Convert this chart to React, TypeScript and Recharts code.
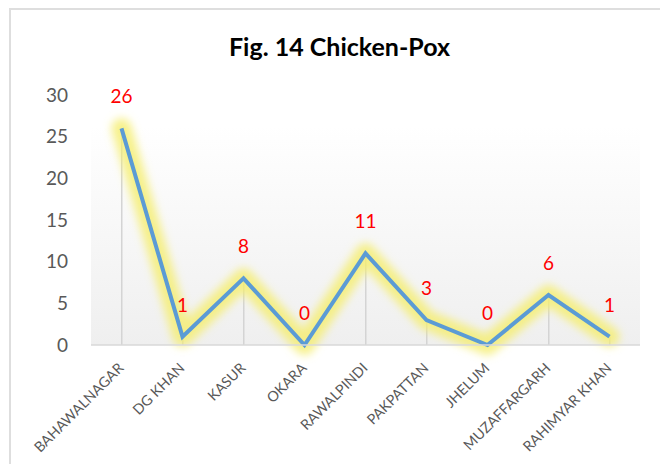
import React from 'react';
import { ComposedChart, Line, Bar, XAxis, YAxis, LabelList, ReferenceArea } from 'recharts';

const districts = ['BAHAWALNAGAR', 'DG KHAN', 'KASUR', 'OKARA', 'RAWALPINDI', 'PAKPATTAN', 'JHELUM', 'MUZAFFARGARH', 'RAHIMYAR KHAN'];
const cases = [26, 1, 8, 0, 11, 3, 0, 6, 1];
const yTicks = [0, 5, 10, 15, 20, 25, 30];

const data = districts.map((d, i) => ({ name: d, value: cases[i] }));

const FONT = 'Lato, "Open Sans", sans-serif';

const XTick = (props: any) => {
  const { x, y, payload } = props;
  const ax = x + 3;
  const ay = y + 16;
  return (
    <text
      x={ax}
      y={ay}
      transform={`rotate(-45, ${ax}, ${ay})`}
      textAnchor="end"
      fill="#595959"
      fontSize={14.3}
      fontFamily={FONT}
    >
      {payload.value}
    </text>
  );
};

export default function App() {
  return (
    <div
      style={{
        position: 'relative',
        width: 700,
        height: 520,
        marginLeft: 1,
        border: '2px solid #dedede',
        boxSizing: 'border-box',
        background: '#fff',
      }}
    >
      <div
        style={{
          position: 'absolute',
          left: 0,
          top: 21,
          width: 657,
          textAlign: 'center',
          fontFamily: FONT,
          fontWeight: 700,
          fontSize: 25,
          lineHeight: '30px',
          color: '#000',
        }}
      >
        Fig. 14 Chicken-Pox
      </div>
      <div style={{ position: 'absolute', left: 0, top: 0 }}>
        <ComposedChart
          width={660}
          height={456}
          data={data}
          margin={{ top: 85, right: 31, bottom: 21, left: 0 }}
        >
          <defs>
            <linearGradient id="plotBg" x1="0" y1="0" x2="0" y2="1">
              <stop offset="0%" stopColor="#ffffff" />
              <stop offset="100%" stopColor="#efefef" />
            </linearGradient>
            <filter id="glow" x="-20%" y="-20%" width="140%" height="140%">
              <feGaussianBlur stdDeviation="4.5" />
            </filter>
          </defs>
          <XAxis
            dataKey="name"
            height={100}
            interval={0}
            tick={<XTick />}
            tickLine={false}
            axisLine={{ stroke: '#d9d9d9', strokeWidth: 1.5 }}
          />
          <YAxis
            width={80}
            domain={[0, 30]}
            ticks={yTicks}
            axisLine={false}
            tickLine={false}
            tickSize={0}
            tickMargin={23}
            tick={{ fill: '#595959', fontSize: 19, fontFamily: FONT }}
          />
          <ReferenceArea y1={0} y2={26.3} fill="url(#plotBg)" fillOpacity={1} stroke="none" ifOverflow="extendDomain" />
          <Bar dataKey="value" barSize={1.5} fill="#d4d4d4" isAnimationActive={false} />
          <Line
            dataKey="value"
            type="linear"
            stroke="#f5ee6e"
            strokeOpacity={0.8}
            strokeWidth={20}
            strokeLinejoin="round"
            strokeLinecap="round"
            filter="url(#glow)"
            dot={false}
            activeDot={false}
            isAnimationActive={false}
          />
          <Line
            dataKey="value"
            type="linear"
            stroke="#5b9bd5"
            strokeWidth={4}
            strokeLinejoin="miter"
            dot={false}
            activeDot={false}
            isAnimationActive={false}
          >
            <LabelList dataKey="value" position="top" offset={25} fill="#ff0000" fontSize={19} fontFamily={FONT} />
          </Line>
        </ComposedChart>
      </div>
    </div>
  );
}
